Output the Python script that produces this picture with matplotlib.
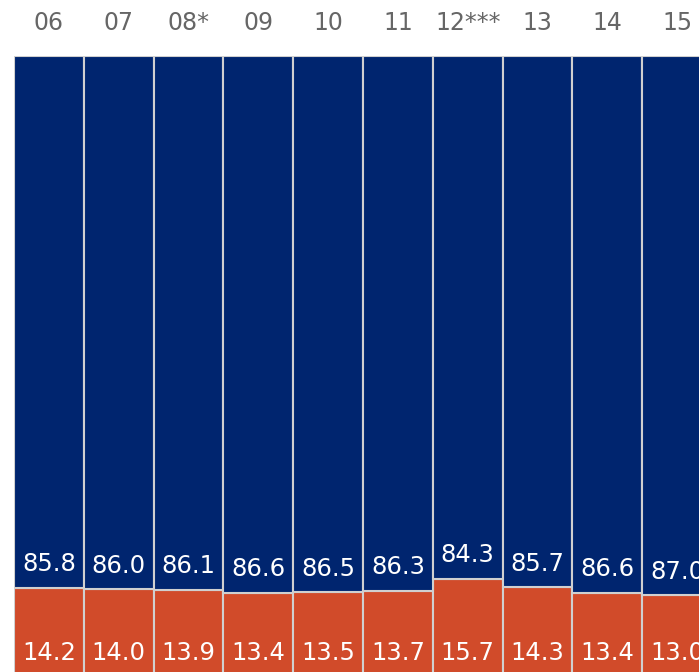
import numpy as np
import matplotlib.pyplot as plt

years = ["06", "07", "08*", "09", "10", "11", "12***", "13", "14", "15"]
blue_vals = [85.8, 86.0, 86.1, 86.6, 86.5, 86.3, 84.3, 85.7, 86.6, 87.0]
orange_vals = [14.2, 14.0, 13.9, 13.4, 13.5, 13.7, 15.7, 14.3, 13.4, 13.0]

blue = "#00256f"
orange = "#d14b2a"
edge = "#d0d0d0"

W, H = 699, 672
fig = plt.figure(figsize=(W / 100, H / 100), dpi=100)
# axes runs a little past the bottom of the image, like the cropped original
ax = fig.add_axes([14 / W, -4 / H, 685 / W, 620 / H])

x = np.arange(len(years))
ax.bar(x, orange_vals, width=1.0, color=orange, edgecolor=edge, linewidth=1.5)
ax.bar(x, blue_vals, width=1.0, bottom=orange_vals, color=blue, edgecolor=edge, linewidth=1.5)

for i in range(len(years)):
    ax.annotate(f"{blue_vals[i]:.1f}", (x[i], orange_vals[i]), xytext=(0, 17),
                textcoords="offset points", ha="center", va="center",
                color="white", fontsize=17.5, annotation_clip=False)
    ax.annotate(f"{orange_vals[i]:.1f}", (x[i], 0), xytext=(0, 16.5),
                textcoords="offset points", ha="center", va="center",
                color="white", fontsize=17.5, annotation_clip=False)
    ax.annotate(years[i], (x[i], 100), xytext=(0, 24),
                textcoords="offset points", ha="center", va="center",
                color="#666666", fontsize=17, annotation_clip=False)

ax.set_xlim(-0.5, -0.5 + 685 / 69.8)
ax.set_ylim(0, 100)
ax.axis("off")

fig.savefig("out.png", dpi=100)
